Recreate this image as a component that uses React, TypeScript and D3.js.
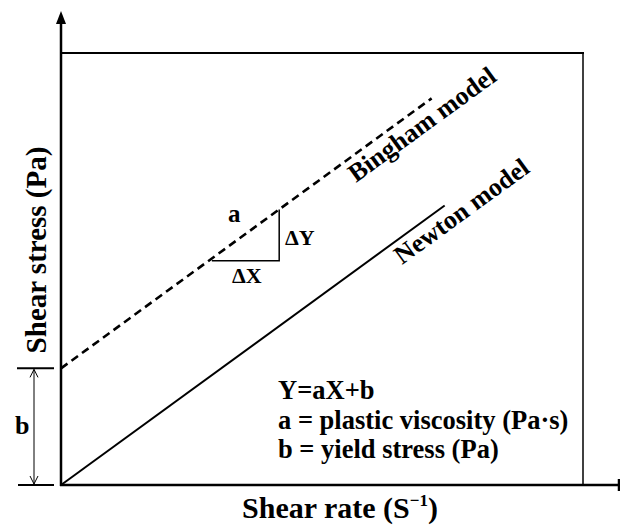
import React from "react";
import * as d3 from "d3";

const W = 620;
const H = 525;

// Abstract rheology plot: shear stress vs shear rate, arbitrary units
const xDomain: [number, number] = [0, 10];
const yDomain: [number, number] = [0, 10];

// Bingham plastic: offset by yield stress b, slope a
const binghamPoints: [number, number][] = [
  [0, 2.7],
  [7.1, 8.95],
];
// Newtonian fluid: through the origin
const newtonPoints: [number, number][] = [
  [0, 0],
  [7.35, 6.47],
];
// Slope triangle drawn under the Bingham line
const slopeTriangle: [number, number][] = [
  [2.89, 5.19],
  [4.18, 5.19],
  [4.18, 6.38],
];
const yieldStress = 2.7;

const formulaLines = [
  "Y=aX+b",
  "a = plastic viscosity (Pa·s)",
  "b = yield stress (Pa)",
];
const modelLabels = ["Bingham model", "Newton model"];

const textStyle: React.CSSProperties = {
  fontFamily: '"Liberation Serif"',
  fontWeight: "bold",
};

export default function App() {
  const x = d3.scaleLinear().domain(xDomain).range([61, 583]);
  const y = d3.scaleLinear().domain(yDomain).range([485, 53]);
  const line = d3
    .line<[number, number]>()
    .x((d) => x(d[0]))
    .y((d) => y(d[1]));

  const x0 = x(0);
  const y0 = y(0);
  const yb = y(yieldStress);
  const angle = -36;
  const dimX = 34;

  return (
    <svg width={W} height={H} style={{ position: "absolute", left: 0, top: 0, background: "#fff" }}>
      {/* frame */}
      <line x1={x0} y1={y(10)} x2={x(10) + 1} y2={y(10)} stroke="#000" strokeWidth={2} />
      <line x1={x(10)} y1={y(10)} x2={x(10)} y2={y0} stroke="#000" strokeWidth={1.5} />

      {/* axes */}
      <line x1={x0} y1={y0 + 1} x2={x0} y2={20} stroke="#000" strokeWidth={2.5} />
      <path d={`M${x0},11 L${x0 - 5},24 L${x0 + 5},24 Z`} fill="#000" />
      <line x1={x0 - 1} y1={y0} x2={619} y2={y0} stroke="#000" strokeWidth={2.5} />
      <line x1={619} y1={y0 - 6} x2={619} y2={y0 + 6} stroke="#000" strokeWidth={2.5} />

      {/* models */}
      <path d={line(binghamPoints) ?? ""} fill="none" stroke="#000" strokeWidth={2.6} strokeDasharray="8,5" />
      <path d={line(newtonPoints) ?? ""} fill="none" stroke="#000" strokeWidth={2} />

      {/* slope triangle */}
      <path d={line(slopeTriangle) ?? ""} fill="none" stroke="#000" strokeWidth={1.5} />
      <text x={228} y={222} fontSize={25} style={textStyle}>a</text>
      <text x={285} y={245} fontSize={22} style={textStyle}>ΔY</text>
      <text x={232} y={283} fontSize={22} style={textStyle}>ΔX</text>

      {/* yield stress dimension */}
      <line x1={17} y1={yb} x2={54} y2={yb} stroke="#000" strokeWidth={2} />
      <line x1={18} y1={y0} x2={54} y2={y0} stroke="#000" strokeWidth={2} />
      <line x1={dimX} y1={yb + 1} x2={dimX} y2={y0 - 1} stroke="#000" strokeWidth={1} />
      <path d={`M${dimX - 4},${yb + 9} L${dimX},${yb + 1} L${dimX + 4},${yb + 9}`} fill="none" stroke="#000" strokeWidth={1} />
      <path d={`M${dimX - 4},${y0 - 9} L${dimX},${y0 - 1} L${dimX + 4},${y0 - 9}`} fill="none" stroke="#000" strokeWidth={1} />
      <text x={15} y={434} fontSize={26} style={textStyle}>b</text>

      {/* model labels */}
      <text transform={`translate(356,183) rotate(${angle})`} fontSize={26} style={textStyle}>{modelLabels[0]}</text>
      <text transform={`translate(402,265) rotate(${angle})`} fontSize={26} style={textStyle}>{modelLabels[1]}</text>

      {/* formula block */}
      {formulaLines.map((t, i) => (
        <text key={t} x={278} y={399 + i * 29.5} fontSize={26.5} style={textStyle}>{t}</text>
      ))}

      {/* axis titles */}
      <text x={340} y={518} fontSize={30} textAnchor="middle" style={textStyle}>
        Shear rate (S<tspan fontSize={17} dy={-12}>−1</tspan><tspan dy={12}>)</tspan>
      </text>
      <text transform="translate(46,250) rotate(-90)" fontSize={29} textAnchor="middle" style={textStyle}>
        Shear stress (Pa)
      </text>
    </svg>
  );
}
